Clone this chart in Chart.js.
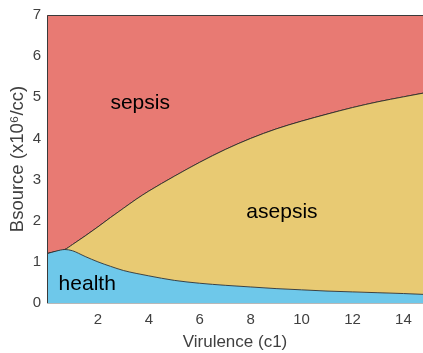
<!DOCTYPE html>
<html>
<head>
<meta charset="utf-8">
<script src="https://cdn.jsdelivr.net/npm/chart.js@4/dist/chart.umd.min.js"></script>
<style>
  html, body { margin: 0; padding: 0; background: #fff; }
  #wrap { width: 423px; height: 353px; }
</style>
</head>
<body>
<div id="wrap"><canvas id="myChart"></canvas></div>
<script>
// virulence c1 and the two boundaries (Bsource, x10^6/cc)
const virulence = [0, 0.35, 0.7, 1, 1.5, 2, 2.5, 3, 3.5, 4, 5, 6, 7, 8, 9, 10, 11, 12, 13, 14, 14.77];
const healthBound = [1.2, 1.26, 1.30, 1.27, 1.13, 1.0, 0.89, 0.79, 0.72, 0.66, 0.55, 0.48, 0.43, 0.39, 0.35, 0.32, 0.29, 0.27, 0.25, 0.23, 0.21];
const sepsisBound = [1.2, 1.25, 1.30, 1.42, 1.63, 1.85, 2.08, 2.3, 2.52, 2.72, 3.08, 3.42, 3.73, 4.0, 4.23, 4.42, 4.59, 4.75, 4.89, 5.01, 5.1];
const xTicks = [2, 4, 6, 8, 10, 12, 14];
const yTicks = [0, 1, 2, 3, 4, 5, 6, 7];
const regionNames = ['sepsis', 'asepsis', 'health'];
const regionSpots = [[3.66, 4.85], [9.23, 2.2], [1.58, 0.46]];

const ctx = document.querySelector('#myChart');

const pts = (ys) => virulence.map((x, i) => ({ x: x, y: ys[i] }));

const regionLabels = {
    id: 'regionLabels',
    afterDatasetsDraw(chart) {
        const c = chart.ctx;
        const a = chart.chartArea;
        // frame: top and left edges dark
        c.save();
        c.strokeStyle = '#3a3a3a';
        c.lineWidth = 1;
        c.beginPath();
        c.moveTo(a.left + 0.5, a.bottom);
        c.lineTo(a.left + 0.5, a.top + 0.5);
        c.lineTo(a.right, a.top + 0.5);
        c.stroke();
        c.fillStyle = '#000';
        c.font = '21px "Liberation Sans", Arial, sans-serif';
        c.textAlign = 'center';
        c.textBaseline = 'middle';
        regionNames.forEach((t, i) => {
            const px = chart.scales.x.getPixelForValue(regionSpots[i][0]);
            const py = chart.scales.y.getPixelForValue(regionSpots[i][1]);
            c.fillText(t, px, py);
        });
        c.restore();
    }
};

new Chart(ctx, {
    type: 'line',
    data: {
        datasets: [
            {
                label: 'health',
                data: pts(healthBound),
                fill: 'origin',
                backgroundColor: 'rgb(110, 200, 234)',
                borderColor: 'rgba(40, 40, 40, 0.85)',
                borderWidth: 1,
                pointRadius: 0,
                cubicInterpolationMode: 'monotone'
            },
            {
                label: 'asepsis',
                data: pts(sepsisBound),
                fill: '-1',
                backgroundColor: 'rgb(232, 202, 115)',
                borderColor: 'rgba(40, 40, 40, 0.85)',
                borderWidth: 1,
                pointRadius: 0,
                cubicInterpolationMode: 'monotone'
            },
            {
                label: 'sepsis',
                data: pts(sepsisBound),
                fill: 'end',
                backgroundColor: 'rgb(232, 122, 115)',
                borderColor: 'rgba(40, 40, 40, 0.85)',
                borderWidth: 1,
                pointRadius: 0,
                cubicInterpolationMode: 'monotone'
            }
        ]
    },
    options: {
        responsive: true,
        maintainAspectRatio: false,
        animation: false,
        layout: { padding: { top: 13, right: 0, left: 0, bottom: 0 } },
        plugins: {
            legend: { display: false },
            tooltip: { enabled: false }
        },
        scales: {
            x: {
                type: 'linear',
                min: 0,
                max: 14.77,
                afterBuildTicks: (s) => { s.ticks = xTicks.map(v => ({ value: v })); },
                afterFit: (s) => { s.height = 50; },
                grid: { display: false, drawTicks: false },
                border: { display: true, color: '#b8b8b8', width: 1 },
                ticks: {
                    color: '#404040',
                    padding: 8,
                    maxRotation: 0,
                    font: { family: '"Liberation Sans", Arial, sans-serif', size: 15 }
                },
                title: {
                    display: true,
                    text: 'Virulence (c1)',
                    color: '#404040',
                    padding: { top: 0, bottom: 0 },
                    font: { family: '"Liberation Sans", Arial, sans-serif', size: 17 }
                }
            },
            y: {
                min: 0,
                max: 7,
                afterBuildTicks: (s) => { s.ticks = yTicks.map(v => ({ value: v })); },
                afterFit: (s) => { s.width = 47; },
                grid: { display: false, drawTicks: false },
                border: { display: false },
                ticks: {
                    color: '#404040',
                    padding: 6,
                    font: { family: '"Liberation Sans", Arial, sans-serif', size: 15 }
                },
                title: {
                    display: true,
                    text: 'Bsource (x10\u2076/cc)',
                    color: '#404040',
                    padding: { top: 7, bottom: 0 },
                    font: { family: '"Liberation Sans", Arial, sans-serif', size: 18.5 }
                }
            }
        }
    },
    plugins: [regionLabels]
});
</script>
</body>
</html>
